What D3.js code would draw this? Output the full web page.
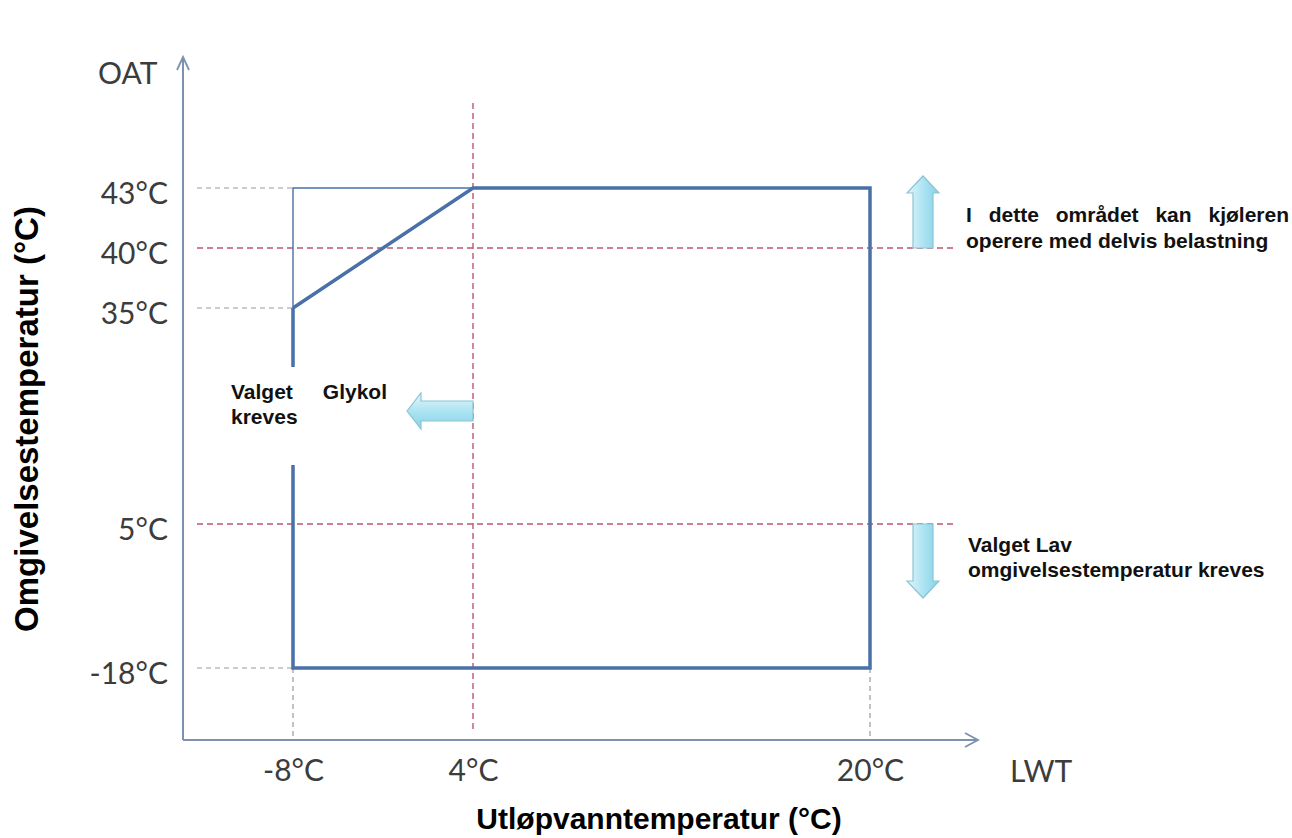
<!DOCTYPE html>
<html><head><meta charset="utf-8">
<script src="https://cdn.jsdelivr.net/npm/d3@7"></script>
<style>
html,body{margin:0;padding:0;background:#fff;}
svg{display:block;}
</style></head>
<body>
<svg id="c" width="1292" height="838"></svg>
<script>
// ---- data ----
const oatTicks = [43, 40, 35, 5, -18];
const lwtTicks = [-8, 4, 20];
const envelope = [[-8, 35], [-8, -18], [20, -18], [20, 43], [4, 43], [-8, 35]];
const glycolEdge = [[-8, 35], [-8, 43], [4, 43]];
const redOat = [40, 5];
const redLwt = [4];
const grayOat = [43, 35, -18];
const grayLwt = [-8, 20];
const yTitle = "Omgivelsestemperatur (°C)";
const xTitle = "Utløpvanntemperatur (°C)";
const noteTop = ["I dette området kan kjøleren", "operere med delvis belastning"];
const noteBottom = ["Valget Lav", "omgivelsestemperatur kreves"];
const noteLeft = ["Valget Glykol", "kreves"];

// ---- layout ----
const svg = d3.select("#c");
const AX = 183, AY = 740;
const y = d3.scaleLinear().domain([-18, 5, 35, 40, 43]).range([668, 524, 308, 248, 188]);
const x = d3.scaleLinear().domain([-8, 4, 20]).range([293, 473, 870]);

const defs = svg.append("defs");
function grad(id, vertical) {
  const g = defs.append("linearGradient").attr("id", id)
    .attr("x1", 0).attr("y1", 0).attr("x2", vertical ? 0 : 1).attr("y2", vertical ? 1 : 0);
  g.append("stop").attr("offset", "0%").attr("stop-color", "#e2f6fb");
  g.append("stop").attr("offset", "55%").attr("stop-color", "#a9e2f1");
  g.append("stop").attr("offset", "100%").attr("stop-color", "#86d2e8");
}
grad("gv", false); grad("gh", true);

// gray guide lines
const gray = "#9a9a9a";
svg.append("g").selectAll("line").data(grayOat).join("line")
  .attr("x1", AX + 14).attr("x2", x(-8)).attr("y1", d => y(d)).attr("y2", d => y(d))
  .attr("stroke", gray).attr("stroke-width", 1.2).attr("stroke-dasharray", "5,4");
svg.append("g").selectAll("line").data(grayLwt).join("line")
  .attr("x1", d => x(d)).attr("x2", d => x(d)).attr("y1", y(-18)).attr("y2", AY)
  .attr("stroke", gray).attr("stroke-width", 1.2).attr("stroke-dasharray", "5,4");

// red guide lines
const red = "#c0566f";
svg.append("g").selectAll("line").data(redOat).join("line")
  .attr("x1", AX + 14).attr("x2", 953).attr("y1", d => y(d)).attr("y2", d => y(d))
  .attr("stroke", red).attr("stroke-width", 1.4).attr("stroke-dasharray", "6,4");
svg.append("g").selectAll("line").data(redLwt).join("line")
  .attr("x1", d => x(d)).attr("x2", d => x(d)).attr("y1", 103).attr("y2", 733)
  .attr("stroke", red).attr("stroke-width", 1.4).attr("stroke-dasharray", "6,4");

// envelope
const line = d3.line().x(d => x(d[0])).y(d => y(d[1]));
const blue = "#4a70a8";
svg.append("path").attr("d", line(glycolEdge)).attr("fill", "none")
  .attr("stroke", blue).attr("stroke-width", 1.4);
svg.append("path").attr("d", line(envelope)).attr("fill", "none")
  .attr("stroke", blue).attr("stroke-width", 3.5).attr("stroke-linejoin", "miter");

// axes lines with open arrowheads
const axc = "#7d91b0";
svg.append("line").attr("x1", AX).attr("x2", AX).attr("y1", AY).attr("y2", 57)
  .attr("stroke", axc).attr("stroke-width", 2);
svg.append("path").attr("d", `M${AX - 6},${70} L${AX},${57} L${AX + 6},${70}`)
  .attr("fill", "none").attr("stroke", axc).attr("stroke-width", 1.8);
svg.append("line").attr("x1", AX).attr("x2", 978).attr("y1", AY).attr("y2", AY)
  .attr("stroke", axc).attr("stroke-width", 2);
svg.append("path").attr("d", `M${965},${AY - 7} L${978},${AY} L${965},${AY + 7}`)
  .attr("fill", "none").attr("stroke", axc).attr("stroke-width", 1.8);

// tick labels via d3 axes
const tickFont = "Lato, 'Open Sans', sans-serif";
const yAxis = svg.append("g").attr("transform", `translate(${AX},0)`)
  .call(d3.axisLeft(y).tickValues(oatTicks).tickFormat(d => d + "°C").tickSize(0).tickPadding(15));
yAxis.select(".domain").remove();
yAxis.selectAll("text").attr("font-family", tickFont).attr("font-size", 30)
  .attr("fill", "#3c3c3c").attr("dy", "0.5em");
const xAxis = svg.append("g").attr("transform", `translate(0,${AY})`)
  .call(d3.axisBottom(x).tickValues(lwtTicks).tickFormat(d => d + "°C").tickSize(0).tickPadding(20));
xAxis.select(".domain").remove();
xAxis.selectAll("text").attr("font-family", tickFont).attr("font-size", 30)
  .attr("fill", "#3c3c3c");

svg.append("text").attr("x", 98).attr("y", 84).text("OAT")
  .attr("font-family", tickFont).attr("font-size", 30).attr("fill", "#3c3c3c");
svg.append("text").attr("x", 1010).attr("y", 782).text("LWT")
  .attr("font-family", tickFont).attr("font-size", 30).attr("fill", "#3c3c3c");

// arrows
const ax0 = 923;
function vArrow(xc, yBase, yTip) {
  const dir = yTip < yBase ? -1 : 1;
  const hw = 10, hh = 16, headLen = 17;
  const yh = yTip - dir * headLen;
  return `M${xc - hw},${yBase} L${xc - hw},${yh} L${xc - hh},${yh} L${xc},${yTip} L${xc + hh},${yh} L${xc + hw},${yh} L${xc + hw},${yBase} Z`;
}
svg.append("path").attr("d", vArrow(ax0, y(40), 176))
  .attr("fill", "url(#gv)").attr("stroke", "#8cc3d6").attr("stroke-width", 1.2);
svg.append("path").attr("d", vArrow(ax0, y(5), 598))
  .attr("fill", "url(#gv)").attr("stroke", "#8cc3d6").attr("stroke-width", 1.2);

// white note box (left) covering the line
svg.append("rect").attr("x", 210).attr("y", 367).attr("width", 197).attr("height", 98).attr("fill", "#fff");
(function () {
  const yc = 411, xb = x(4), xt = 407, hw = 10, hh = 18, xh = 421;
  svg.append("path")
    .attr("d", `M${xb},${yc - hw} L${xh},${yc - hw} L${xh},${yc - hh} L${xt},${yc} L${xh},${yc + hh} L${xh},${yc + hw} L${xb},${yc + hw} Z`)
    .attr("fill", "url(#gh)").attr("stroke", "#8cc3d6").attr("stroke-width", 1.2);
})();

// notes
const noteFont = "'Liberation Sans', Arial, sans-serif";
function justified(lines, x0, x1, y0, lh, justifyFirst) {
  lines.forEach((txt, i) => {
    const yy = y0 + i * lh;
    const words = txt.split(" ");
    if (i === 0 && justifyFirst && words.length > 1) {
      const g = svg.append("g");
      const nodes = words.map(w => g.append("text").text(w).attr("y", yy)
        .attr("font-family", noteFont).attr("font-size", 21).attr("font-weight", "bold").attr("fill", "#111"));
      const widths = nodes.map(n => n.node().getComputedTextLength());
      const total = d3.sum(widths);
      const gap = (x1 - x0 - total) / (words.length - 1);
      let cx = x0;
      nodes.forEach((n, k) => { n.attr("x", cx); cx += widths[k] + gap; });
    } else {
      svg.append("text").text(txt).attr("x", x0).attr("y", yy)
        .attr("font-family", noteFont).attr("font-size", 21).attr("font-weight", "bold").attr("fill", "#111");
    }
  });
}
justified(noteTop, 966, 1289, 222, 26, true);
justified(noteBottom, 968, 1270, 552, 25, false);
justified(noteLeft, 231, 387, 399, 25, true);

// axis titles
svg.append("text").text(xTitle).attr("x", 659).attr("y", 829).attr("text-anchor", "middle")
  .attr("font-family", noteFont).attr("font-size", 30).attr("font-weight", "bold").attr("fill", "#000");
svg.append("text").text(yTitle).attr("transform", "translate(38,419) rotate(-90)").attr("text-anchor", "middle")
  .attr("font-family", noteFont).attr("font-size", 33).attr("font-weight", "bold").attr("fill", "#000");
</script>
</body></html>
